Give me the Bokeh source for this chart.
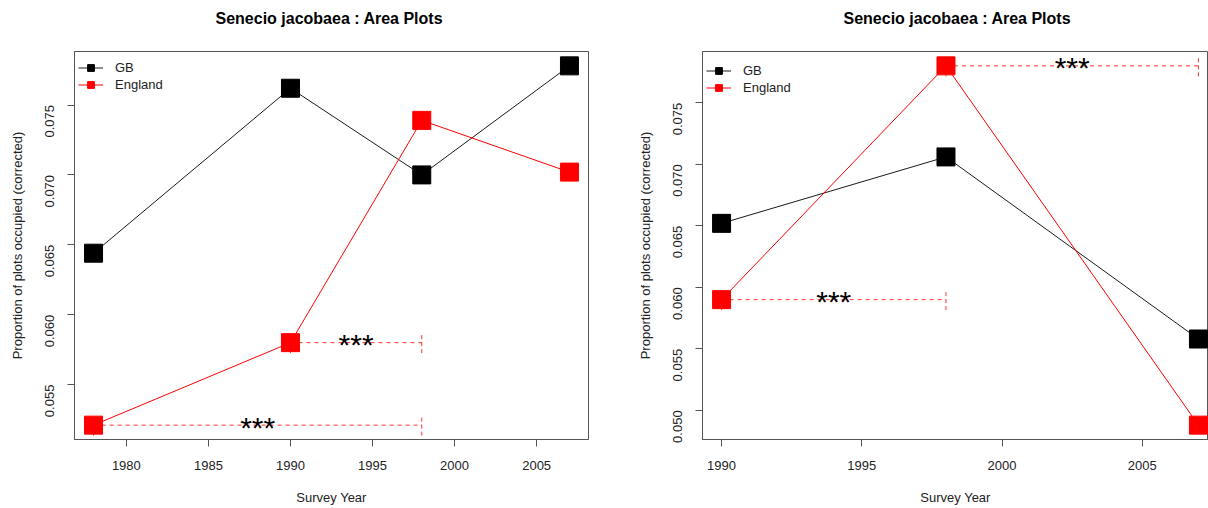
import math
from bokeh.plotting import figure
from bokeh.layouts import row
from bokeh.models import (FixedTicker, PrintfTickFormatter, Legend, LegendItem,
                          ColumnDataSource, Range1d, Title)
from bokeh.core.properties import value
from bokeh.embed import file_html
from bokeh.resources import INLINE

# ---------------- data ----------------
TITLE = "Senecio jacobaea  : Area Plots"
X_LABEL = "Survey Year"
Y_LABEL = "Proportion of plots occupied (corrected)"
SERIES = ["GB", "England"]
SIG_LABEL = "***"

left_years = [1978, 1990, 1998, 2007]
left_gb = [0.0644, 0.0762, 0.0700, 0.0778]
left_england = [0.0521, 0.0580, 0.0739, 0.0702]
left_sig_from = [1978, 1990]
left_sig_to = [1998, 1998]
left_xticks = [1980, 1985, 1990, 1995, 2000, 2005]
left_yticks = [0.055, 0.060, 0.065, 0.070, 0.075]

right_years = [1990, 1998, 2007]
right_gb = [0.0652, 0.0706, 0.0558]
right_england = [0.0590, 0.0780, 0.0488]
right_sig_from = [1990, 1998]
right_sig_to = [1998, 2007]
right_xticks = [1990, 1995, 2000, 2005]
right_yticks = [0.050, 0.055, 0.060, 0.065, 0.070, 0.075]

# ---------------- style ----------------
FONT = "Liberation Sans"
AXIS_COL = "#555555"
TEXT_COL = "#222222"
GB_COL = "#1a1a1a"
ENG_COL = "#ff0000"
FIG_H = 508
TOP = 51


def r_range(vals):
    lo, hi = min(vals), max(vals)
    d = (hi - lo) * 0.04
    return lo - d, hi + d


def make_panel(years, gb, eng, sig_from, sig_to, xticks, yticks,
               width, b_left, b_right, b_bottom, x_keep=1.0):
    x0, x1 = r_range(years)
    x1 = x0 + (x1 - x0) * x_keep
    y0, y1 = r_range(gb + eng)
    p = figure(width=width, height=FIG_H, output_backend="svg", toolbar_location=None,
               title=None,
               x_range=Range1d(x0, x1), y_range=Range1d(y0, y1),
               min_border_left=b_left, min_border_right=b_right,
               min_border_top=TOP, min_border_bottom=b_bottom)
    p.background_fill_color = "white"
    p.border_fill_color = "white"
    p.outline_line_color = AXIS_COL
    p.outline_line_width = 1
    p.grid.visible = False

    # spacer between frame and title, then the title itself
    spacer = Title(text=" ", text_font_size="10px", standoff=12, text_color="white")
    p.add_layout(spacer, "above")
    title = Title(text=TITLE, align="left", offset=141, standoff=0,
                  text_font=FONT, text_font_size="16px", text_font_style="bold",
                  text_color="black")
    p.add_layout(title, "above")

    for ax in (p.xaxis[0], p.yaxis[0]):
        ax.axis_line_color = AXIS_COL
        ax.major_tick_line_color = AXIS_COL
        ax.major_tick_out = 7
        ax.major_tick_in = 0
        ax.minor_tick_line_color = None
        ax.major_label_text_font = FONT
        ax.major_label_text_font_size = "13px"
        ax.major_label_text_color = TEXT_COL
        ax.axis_label_text_font = FONT
        ax.axis_label_text_font_size = "13px"
        ax.axis_label_text_font_style = "normal"
        ax.axis_label_text_color = TEXT_COL
    p.xaxis.ticker = FixedTicker(ticks=xticks)
    p.xaxis.formatter = PrintfTickFormatter(format="%d")
    p.xaxis.axis_label = X_LABEL
    p.xaxis.major_label_standoff = 14
    p.xaxis.axis_label_standoff = 17
    p.yaxis.ticker = FixedTicker(ticks=yticks)
    p.yaxis.formatter = PrintfTickFormatter(format="%.3f")
    p.yaxis.axis_label = Y_LABEL
    p.yaxis.major_label_orientation = math.pi / 2
    p.yaxis.major_label_standoff = 18
    p.yaxis.axis_label_standoff = 13

    # significance comparisons (dashed bars starting at England value)
    sig_y = [eng[years.index(f)] for f in sig_from]
    sig_mid = [(a + b) / 2 for a, b in zip(sig_from, sig_to)]
    sig_src = ColumnDataSource(dict(x0=sig_from, x1=sig_to, y=sig_y, xm=sig_mid,
                                    lab=[SIG_LABEL] * len(sig_from)))
    p.segment(x0="x0", y0="y", x1="x1", y1="y", source=sig_src,
              line_color=ENG_COL, line_alpha=0.8, line_width=1, line_dash="4 4")
    p.scatter(x="x0", y="y", source=sig_src, marker="dash", angle=math.pi / 2, size=21,
              line_color=ENG_COL, line_alpha=0.8, line_width=1, line_dash="4 3")
    p.scatter(x="x1", y="y", source=sig_src, marker="dash", angle=math.pi / 2, size=21,
              line_color=ENG_COL, line_alpha=0.8, line_width=1, line_dash="4 3")

    gl = p.line(years, gb, line_color=GB_COL, line_width=1)
    el = p.line(years, eng, line_color=ENG_COL, line_width=1)
    gs = p.scatter(years, gb, marker="square", size=18, fill_color="black",
                   line_color="black", line_width=1)
    es = p.scatter(years, eng, marker="square", size=18, fill_color=ENG_COL,
                   line_color=ENG_COL, line_width=1)

    p.text(x="xm", y="y", text="lab", source=sig_src, text_font=value(FONT),
           text_font_size="30px", text_align="center", text_baseline="alphabetic",
           y_offset=2, text_color="black")

    fh = FIG_H - TOP - b_bottom
    legend = Legend(items=[LegendItem(label=SERIES[0], renderers=[gl, gs]),
                           LegendItem(label=SERIES[1], renderers=[el, es])],
                    location=(4, fh - 10.5 - 34))
    legend.border_line_color = None
    legend.background_fill_alpha = 0
    legend.padding = 0
    legend.margin = 0
    legend.spacing = 0
    legend.glyph_width = 25
    legend.glyph_height = 17
    legend.label_height = 17
    legend.label_standoff = 12
    legend.label_text_font = FONT
    legend.label_text_font_size = "13px"
    legend.label_text_color = TEXT_COL
    legend.label_text_baseline = "middle"
    p.add_layout(legend, "center")
    return p


left = make_panel(left_years, left_gb, left_england, left_sig_from, left_sig_to,
                  left_xticks, left_yticks, width=630, b_left=74, b_right=42, b_bottom=66)
right = make_panel(right_years, right_gb, right_england, right_sig_from, right_sig_to,
                   right_xticks, right_yticks, width=578, b_left=72, b_right=0, b_bottom=69,
                   x_keep=506 / 515)

layout = row(left, right)
open("out.html", "w").write(file_html(layout, INLINE))
